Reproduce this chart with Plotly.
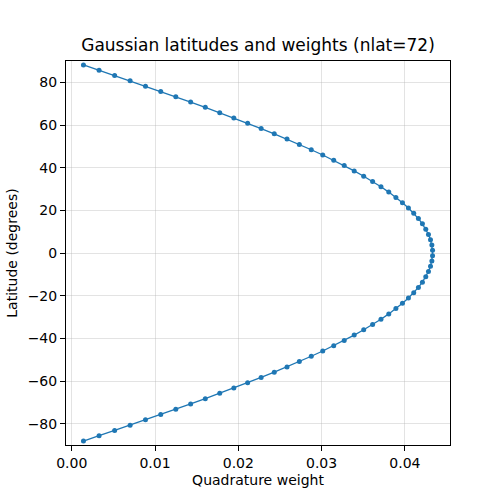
import plotly.graph_objects as go

latitudes = [88.14, 85.66, 83.17, 80.69, 78.21, 75.72, 73.24, 70.76, 68.28, 65.79,
             63.31, 60.83, 58.34, 55.86, 53.38, 50.90, 48.41, 45.93, 43.45, 40.97,
             38.48, 36.00, 33.52, 31.03, 28.55, 26.07, 23.59, 21.10, 18.62, 16.14,
             13.66, 11.17, 8.69, 6.21, 3.72, 1.24,
             -1.24, -3.72, -6.21, -8.69, -11.17, -13.66, -16.14, -18.62, -21.10, -23.59,
             -26.07, -28.55, -31.03, -33.52, -36.00, -38.48, -40.97, -43.45, -45.93, -48.41,
             -50.90, -53.38, -55.86, -58.34, -60.83, -63.31, -65.79, -68.28, -70.76, -73.24,
             -75.72, -78.21, -80.69, -83.17, -85.66, -88.14]

weights = [0.001408, 0.003283, 0.005152, 0.007010, 0.008856, 0.010687, 0.012496, 0.014279,
           0.016037, 0.017769, 0.019464, 0.021123, 0.022741, 0.024317, 0.025847, 0.027329,
           0.028760, 0.030138, 0.031458, 0.032717, 0.033916, 0.035057, 0.036128, 0.037130,
           0.038064, 0.038923, 0.039711, 0.040426, 0.041064, 0.041625, 0.042107, 0.042511,
           0.042835, 0.043078, 0.043241, 0.043323,
           0.043323, 0.043241, 0.043078, 0.042835, 0.042511, 0.042107, 0.041625, 0.041064,
           0.040426, 0.039711, 0.038923, 0.038064, 0.037130, 0.036128, 0.035057, 0.033916,
           0.032717, 0.031458, 0.030138, 0.028760, 0.027329, 0.025847, 0.024317, 0.022741,
           0.021123, 0.019464, 0.017769, 0.016037, 0.014279, 0.012496, 0.010687, 0.008856,
           0.007010, 0.005152, 0.003283, 0.001408]

x_ticks = [0.00, 0.01, 0.02, 0.03, 0.04]
x_tick_labels = ["0.00", "0.01", "0.02", "0.03", "0.04"]
y_ticks = [-80, -60, -40, -20, 0, 20, 40, 60, 80]

font = "DejaVu Sans"
fig = go.Figure()
fig.add_trace(go.Scatter(
    x=weights, y=latitudes, mode="lines+markers",
    line=dict(color="#1f77b4", width=1.3),
    marker=dict(color="#1f77b4", size=5),
    showlegend=False,
))

span = max(weights) - min(weights)
fig.update_layout(
    width=500, height=500,
    margin=dict(l=63, r=50, t=61, b=55),
    paper_bgcolor="white", plot_bgcolor="white",
    font=dict(family=font, size=14, color="black"),
    title=dict(text="Gaussian latitudes and weights (nlat=72)",
               x=0.5, xref="paper", xanchor="center",
               y=1 - 45 / 500, yref="container", yanchor="middle",
               font=dict(family=font, size=17, color="black")),
    xaxis=dict(range=[min(weights) - 0.05 * span, max(weights) + 0.05 * span],
               tickvals=x_ticks, ticktext=x_tick_labels,
               showgrid=True, gridcolor="rgba(176,176,176,0.35)", gridwidth=1,
               zeroline=False, showline=True, linecolor="black", linewidth=1,
               mirror=True, ticks="outside", ticklen=5, tickcolor="black",
               title=dict(text="Quadrature weight", standoff=5,
                          font=dict(family=font, size=14))),
    yaxis=dict(range=[-90, 90], tickvals=y_ticks,
               showgrid=True, gridcolor="rgba(176,176,176,0.35)", gridwidth=1,
               zeroline=False, showline=True, linecolor="black", linewidth=1,
               mirror=True, ticks="outside", ticklen=5, tickcolor="black",
               title=dict(text="Latitude (degrees)", standoff=6,
                          font=dict(family=font, size=14))),
)

fig.write_html("out.html")
